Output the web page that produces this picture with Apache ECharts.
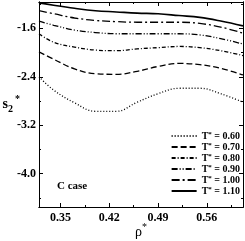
<!DOCTYPE html>
<html><head><meta charset="utf-8">
<script src="https://cdn.jsdelivr.net/npm/echarts@6/dist/echarts.min.js"></script>
<style>html,body{margin:0;padding:0;background:#fff}#c{width:245px;height:241px}</style>
</head><body><div id="c"></div>
<script>
var rho = [0.319, 0.34, 0.37, 0.40, 0.43, 0.46, 0.49, 0.52, 0.55, 0.58, 0.612];
var s060 = [-2.40, -2.62, -2.83, -2.97, -2.97, -2.82, -2.68, -2.59, -2.59, -2.68, -2.82];
var s070 = [-1.99, -2.11, -2.27, -2.35, -2.36, -2.31, -2.23, -2.18, -2.20, -2.26, -2.37];
var s080 = [-1.69, -1.83, -1.91, -1.96, -1.97, -1.94, -1.92, -1.90, -1.92, -1.97, -2.05];
var s090 = [-1.48, -1.55, -1.63, -1.67, -1.69, -1.69, -1.69, -1.69, -1.71, -1.77, -1.86];
var s100 = [-1.31, -1.36, -1.43, -1.47, -1.49, -1.50, -1.50, -1.50, -1.52, -1.58, -1.68];
var s110 = [-1.18, -1.22, -1.27, -1.31, -1.33, -1.35, -1.36, -1.39, -1.42, -1.48, -1.56];
var temps = ['0.60', '0.70', '0.80', '0.90', '1.00', '1.10'];
var xMajor = [0.35, 0.42, 0.49, 0.56];
var xMinor = [0.385, 0.455, 0.525, 0.595];
var yMajor = [-4.0, -3.2, -2.4, -1.6];
var yMinor = [-4.4, -3.6, -2.8, -2.0, -1.2];

var allS = [s060, s070, s080, s090, s100, s110];
var dashes = [[1, 2], [6, 3], [4, 2, 1, 2], [6, 2, 1, 2, 1, 2], [8, 3, 2, 3], 'solid'];
var FONT = 'Liberation Serif';
var XMIN = 0.319, XMAX = 0.612, YMIN = -4.55, YMAX = -1.166;

function xAx(pos, vals, len, labels) {
  return {type: 'value', min: XMIN, max: XMAX, position: pos,
    axisLine: {show: true, onZero: false, lineStyle: {color: '#000', width: 1}},
    splitLine: {show: false},
    axisTick: {show: true, inside: true, length: len, customValues: vals, lineStyle: {color: '#000'}},
    axisLabel: labels ? {show: true, customValues: xMajor, fontFamily: FONT, fontWeight: 'bold', fontSize: 12, color: '#000', margin: 5,
      formatter: function (v) { return v.toFixed(2); }} : {show: false}
  };
}
function yAx(pos, vals, len, labels) {
  return {type: 'value', min: YMIN, max: YMAX, position: pos,
    axisLine: {show: true, onZero: false, lineStyle: {color: '#000', width: 1}},
    splitLine: {show: false},
    axisTick: {show: true, inside: true, length: len, customValues: vals, lineStyle: {color: '#000'}},
    axisLabel: labels ? {show: true, customValues: yMajor, fontFamily: FONT, fontWeight: 'bold', fontSize: 12, color: '#000', margin: 3,
      formatter: function (v) { return v.toFixed(1); }} : {show: false}
  };
}

var xAxes = [xAx('bottom', xMajor, 4, true), xAx('bottom', xMinor, 2, false), xAx('top', xMajor, 4, false), xAx('top', xMinor, 2, false)];
xAxes[0].name = 'ρ{sup|*}';
xAxes[0].nameLocation = 'middle';
xAxes[0].nameGap = 15;
xAxes[0].nameMoveOverlap = false;
xAxes[0].nameTextStyle = {fontFamily: FONT, fontSize: 14, color: '#000', rich: {sup: {fontFamily: FONT, fontSize: 10, padding: [0, 0, 10, 0]}}};
var yAxes = [yAx('left', yMajor, 4, true), yAx('left', yMinor, 2, false), yAx('right', yMajor, 4, false), yAx('right', yMinor, 2, false)];
yAxes[0].name = 's{sub|2}{sup|*}';
yAxes[0].nameLocation = 'middle';
yAxes[0].nameRotate = 0;
yAxes[0].nameGap = 19;
yAxes[0].nameMoveOverlap = false;
yAxes[0].nameTextStyle = {fontFamily: FONT, fontSize: 14, fontWeight: 'bold', color: '#000',
  rich: {sub: {fontFamily: FONT, fontSize: 10, fontWeight: 'bold', padding: [10, 0, 0, 0]},
         sup: {fontFamily: FONT, fontSize: 10, fontWeight: 'bold', padding: [0, 0, 10, 2]}}};

var series = allS.map(function (s, i) {
  return {name: temps[i], type: 'line', xAxisIndex: 0, yAxisIndex: 0, smooth: 0.4, symbol: 'none',
    data: rho.map(function (x, j) { return [x, s[j]]; }),
    lineStyle: {color: '#000', width: i === 5 ? 1.6 : 1.3, type: dashes[i]}, itemStyle: {color: '#000'}};
});

var chart = echarts.init(document.getElementById('c'), null, {renderer: 'canvas'});
chart.setOption({
  animation: false,
  backgroundColor: '#fff',
  grid: {left: 39, right: 2, top: 2, bottom: 34, containLabel: false, outerBoundsMode: 'none'},
  xAxis: xAxes,
  yAxis: yAxes,
  legend: {orient: 'vertical', right: 5, bottom: 45, itemWidth: 25, itemHeight: 10, itemGap: 1, padding: 0,
    data: temps, itemStyle: {opacity: 0},
    formatter: function (n) { return 'T{s|*} = ' + n; },
    textStyle: {fontFamily: FONT, fontWeight: 'bold', fontSize: 10, lineHeight: 10, color: '#000',
      rich: {s: {fontFamily: FONT, fontWeight: 'bold', fontSize: 7, lineHeight: 10, verticalAlign: 'top'}}}},
  graphic: [{type: 'text', left: 57, top: 181, style: {text: 'C case', fontFamily: FONT, fontWeight: 'bold', fontSize: 11, fill: '#000'}}],
  series: series
});
</script></body></html>
